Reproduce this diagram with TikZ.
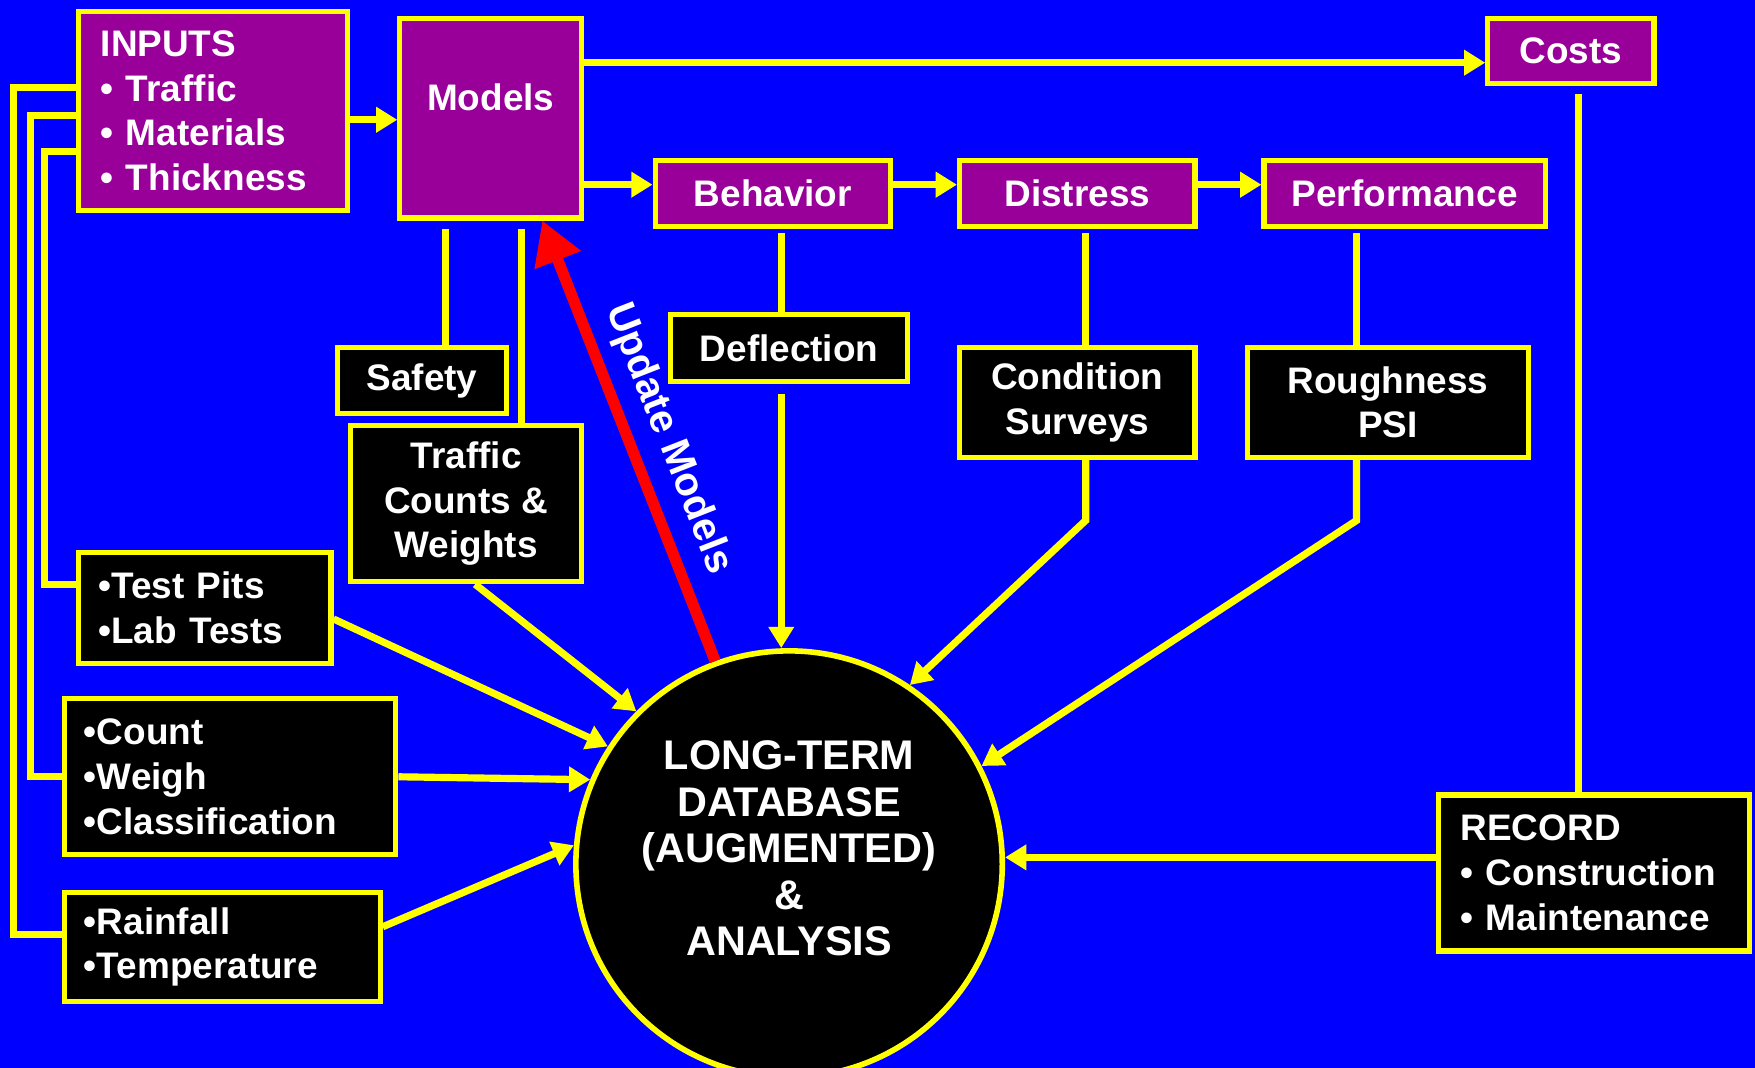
\documentclass[tikz,border=0pt]{standalone}
\usepackage{fontspec}
\setmainfont{Liberation Sans}
\usetikzlibrary{arrows.meta}
\definecolor{ylw}{RGB}{255,255,0}
\definecolor{purp}{RGB}{153,0,153}
\definecolor{bgblue}{RGB}{0,0,255}
\definecolor{rd}{RGB}{255,0,0}

\tikzset{
  lbl/.style={text=white, inner sep=0pt, font=\bfseries\fontsize{16.5}{20}\selectfont},
  pbox/.style={lbl, draw=ylw, fill=purp, line width=2.3pt},
  kbox/.style={pbox, fill=black},
  conn/.style={draw=ylw, line width=3.2pt},
  arr/.style={conn, -{Triangle[length=9.5pt,width=11pt]}},
  upd/.style={draw=rd, line width=5pt, -{Triangle[length=19pt,width=21pt]}},
}

\begin{document}
\begin{tikzpicture}[x=0.5pt,y=0.5pt,yscale=-1]
%Background
\path[use as bounding box, fill=bgblue] (0,0) rectangle (1568,954);

%Shape: purple boxes (top row)
\node[pbox, minimum width=120.2pt, minimum height=88.7pt, text width=100.5pt, align=left] (inputs) at (190.5,99) {INPUTS\\• Traffic\\• Materials\\• Thickness};
\node[pbox, minimum width=81.2pt, minimum height=89.2pt] (models) at (438.5,105.5) {};
\node[lbl] (modelslbl) at (438.5,87) {Models};
\node[pbox, minimum width=74.2pt, minimum height=29.2pt] (costs) at (1403.5,45.5) {Costs};
\node[pbox, minimum width=105.2pt, minimum height=29.7pt] (behavior) at (690.5,173) {Behavior};
\node[pbox, minimum width=105.2pt, minimum height=29.7pt] (distress) at (962.5,173) {Distress};
\node[pbox, minimum width=125.7pt, minimum height=29.7pt] (performance) at (1255,173) {Performance};

%Shape: black boxes (measurements)
\node[kbox, minimum width=75.7pt, minimum height=29.7pt] (safety) at (377,340) {Safety};
\node[kbox, minimum width=103.2pt, minimum height=69.7pt, align=center] (traffic) at (416.5,450) {Traffic\\Counts \&\\Weights};
\node[kbox, minimum width=105.7pt, minimum height=29.7pt] (deflection) at (705,311) {Deflection};
\node[kbox, minimum width=105.2pt, minimum height=49.2pt, align=center] (condition) at (962.5,359.5) {Condition\\Surveys};
\node[kbox, minimum width=125.7pt, minimum height=49.2pt, align=center] (roughness) at (1240,359.5) {Roughness\\PSI};
\node[kbox, minimum width=112.7pt, minimum height=49.7pt, text width=95pt, align=left] (testpits) at (183,543) {•Test Pits\\•Lab Tests};
\node[kbox, minimum width=148.2pt, minimum height=69.7pt, text width=130.5pt, align=left] (count) at (205.5,694) {•Count\\•Weigh\\•Classification};
\node[kbox, minimum width=141.2pt, minimum height=48.7pt, text width=123.5pt, align=left] (rain) at (198.5,846) {•Rainfall\\•Temperature};
\node[kbox, minimum width=138.7pt, minimum height=69.7pt, text width=119pt, align=left] (record) at (1424,780) {RECORD\\• Construction\\• Maintenance};

%Shape: Circle
\node[kbox, circle, line width=2.5pt, minimum size=190.5pt] (db) at (705,772) {};
\node[lbl, align=center, font=\bfseries\fontsize{18.5}{20.75}\selectfont] (dblbl) at (705,758) {LONG-TERM\\DATABASE\\(AUGMENTED)\\\&\\ANALYSIS};

%Free ends of the lines
\coordinate (ms) at (398,205);
\coordinate (mt) at (466,205);
\coordinate (bd) at (698,208);
\coordinate (dd) at (698,352);
\coordinate (dc) at (970,208);
\coordinate (pr) at (1212,208);
\coordinate (cr) at (1410,84);
\coordinate (ck) at (970,465);
\coordinate (rk) at (1212,465);

%Arrows along the top
\draw[arr] ([yshift=4pt]inputs.east) -- ([yshift=4pt]inputs.east -| models.west);
\draw[arr] ([yshift=21pt]models.north east) -- ([yshift=21pt]models.north east -| costs.west);
\draw[arr] ([yshift=-4pt]behavior.west -| models.east) -- ([yshift=-4pt]behavior.west);
\draw[arr] ([yshift=-4pt]distress.west -| behavior.east) -- ([yshift=-4pt]distress.west);
\draw[arr] ([yshift=-4pt]performance.west -| distress.east) -- ([yshift=-4pt]performance.west);

%Straight Lines down to the measurements
\draw[conn] (ms) -- (ms |- safety.north);
\draw[conn] (mt) -- (mt |- traffic.north);
\draw[conn] (bd) -- (bd |- deflection.north);
\draw[conn] (dc) -- (dc |- condition.north);
\draw[conn] (pr) -- (pr |- roughness.north);
\draw[conn] (cr) -- (cr |- record.north);

%Arrows into the database
\draw[arr] (dd) -- (dd |- db.north);
\draw[arr] (dc |- condition.south) -- (ck) -- (db.56);
\draw[arr] (pr |- roughness.south) -- (rk) -- (db.27);
\draw[arr] ([yshift=-7pt]record.west) -- ([yshift=-7pt]record.west -| db.east);
\draw[arr] ([yshift=5pt]testpits.east) -- (db.147);
\draw[arr] ([xshift=4pt]traffic.south) -- (db.135);
\draw[arr] (count.east) -- (db.157);
\draw[arr] ([yshift=-9pt]rain.east) -- (db.175);

%Lines from the inputs on the left
\draw[conn] ([yshift=-10.5pt]inputs.west) -- ++(-56,0) |- ([yshift=-5.5pt]rain.west);
\draw[conn] ([yshift=2pt]inputs.west) -- ++(-41,0) |- (count.west);
\draw[conn] ([yshift=18pt]inputs.west) -- ++(-28,0) |- ([yshift=-10.5pt]testpits.west);

%Red Arrow
\draw[upd] (db.110) -- ([xshift=23pt]models.south);
\node[lbl, rotate=-68.6, font=\bfseries\fontsize{18}{20}\selectfont] (updlbl) at (597,392) {Update Models};
\end{tikzpicture}
\end{document}
